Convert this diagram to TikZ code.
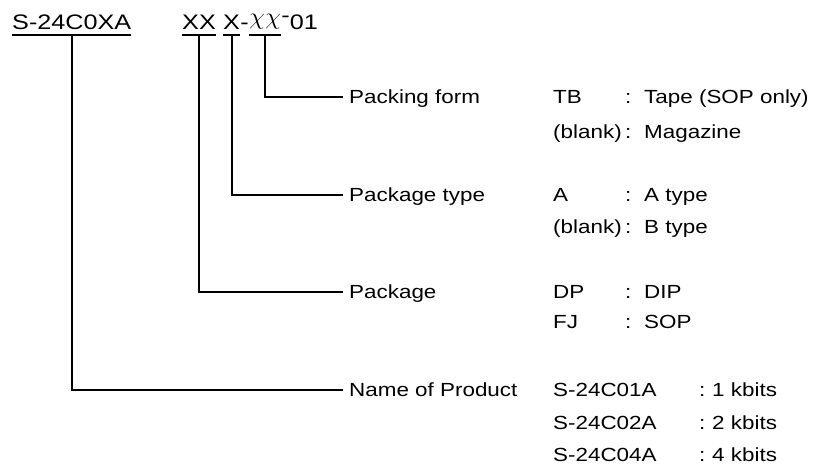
\documentclass[tikz,border=0pt]{standalone}
\usepackage{fontspec}
\setmainfont{Liberation Sans}[FakeStretch=1.18]
\newfontfamily\codefont{Liberation Sans}[FakeStretch=1.2]
\usetikzlibrary{positioning}

\newcommand{\chisym}{\raisebox{4.4pt}{\scalebox{1.25}[1.15]{$\chi$}}}

\tikzset{
	code/.style={inner sep=0pt, text depth=0pt, anchor=base west, font=\codefont\fontsize{21}{25}\selectfont},
	item/.style={inner sep=0pt, text height=13.5pt, text depth=0pt, anchor=west, font=\fontsize{19}{23}\selectfont},
	lead/.style={line width=2.2pt},
}

\begin{document}
\begin{tikzpicture}[x=1pt, y=-1pt]
	\useasboundingbox (0,0) rectangle (822,467);
	% Code line
	\node[code] (title) at (12,29) {S-24C0XA};
	\node[code] (pkgcode) at (182,29) {XX};
	\node[code, base right=7pt of pkgcode] (typecode) {X};
	\node[code, base right=0pt of typecode] (dash) {-};
	\node[code, base right=0pt of dash] (formcode) {\chisym\chisym};
	\node[code, base right=0pt of formcode] (tail) {\raisebox{7pt}{-}01};
	
	% Underlines
	\foreach \n in {title, pkgcode, typecode, formcode}
	{
		\draw[lead] ([yshift=-6pt]\n.south west) -- ([yshift=-6pt]\n.south east);
	}
	
	% Labels
	\node[item] (form) at (349,97) {Packing form};
	\node[item] (type) at (349,195) {Package type};
	\node[item] (pkg) at (349,292) {Package};
	\node[item] (name) at (349,390) {Name of Product};
	
	% Leads
	\draw[lead] ([yshift=-6pt]formcode.south) |- ([xshift=-6pt]form.west);
	\draw[lead] ([yshift=-6pt]typecode.south) |- ([xshift=-6pt]type.west);
	\draw[lead] ([yshift=-6pt]pkgcode.south) |- ([xshift=-6pt]pkg.west);
	\draw[lead] ([yshift=-6pt]title.south) |- ([xshift=-6pt]name.west);
	
	% Options
	\foreach \y/\k/\v in {97/TB/Tape (SOP only), 132/(blank)/Magazine,
		195/A/A type, 227/(blank)/B type, 292/DP/DIP, 322/FJ/SOP}
	{
		\node[item] (key\y) at (553,\y) {\k};
		\node[item] (sep\y) at (625,\y) {:};
		\node[item] (val\y) at (644,\y) {\v};
	}
	\foreach \y/\k/\v in {390/S-24C01A/1 kbits, 423/S-24C02A/2 kbits, 455/S-24C04A/4 kbits}
	{
		\node[item] (key\y) at (553,\y) {\k};
		\node[item] (sep\y) at (699,\y) {:};
		\node[item] (val\y) at (712,\y) {\v};
	}
\end{tikzpicture}
\end{document}
